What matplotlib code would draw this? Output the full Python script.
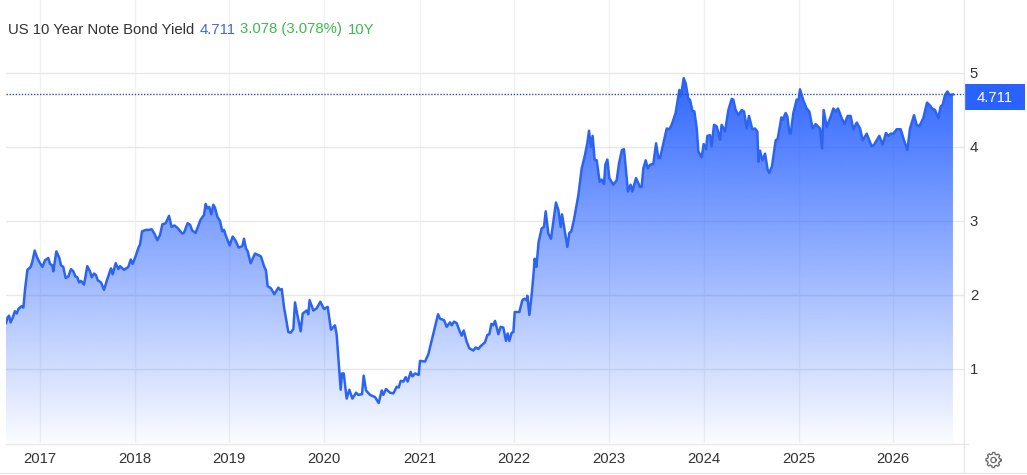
import numpy as np
import matplotlib
matplotlib.use("Agg")
import matplotlib.pyplot as plt
from matplotlib.patches import Rectangle, Polygon

plt.rcParams['font.family'] = ['Liberation Sans', 'DejaVu Sans']

# values: (decimal year, yield)
years = [
    2016.647, 2016.665, 2016.68, 2016.695, 2016.72, 2016.74, 2016.76, 2016.777, 2016.812, 2016.83,
    2016.847, 2016.872, 2016.907, 2016.924, 2016.949, 2016.977, 2017.005, 2017.03, 2017.058, 2017.093,
    2017.11, 2017.135, 2017.145, 2017.177, 2017.209, 2017.226, 2017.25, 2017.275, 2017.303, 2017.331,
    2017.356, 2017.377, 2017.398, 2017.416, 2017.437, 2017.468, 2017.503, 2017.531, 2017.549, 2017.573,
    2017.594, 2017.612, 2017.647, 2017.679, 2017.707, 2017.752, 2017.77, 2017.802, 2017.83, 2017.847,
    2017.889, 2017.935, 2017.96, 2017.98, 2018.016, 2018.044, 2018.058, 2018.079, 2018.1, 2018.121,
    2018.156, 2018.18, 2018.209, 2018.24, 2018.268, 2018.293, 2018.328, 2018.363, 2018.39, 2018.419,
    2018.45, 2018.503, 2018.52, 2018.559, 2018.584, 2018.608, 2018.643, 2018.696, 2018.731, 2018.749,
    2018.766, 2018.787, 2018.808, 2018.829, 2018.847, 2018.871, 2018.9, 2018.924, 2018.942, 2018.959,
    2019.001, 2019.033, 2019.061, 2019.096, 2019.135, 2019.152, 2019.173, 2019.191, 2019.222, 2019.268,
    2019.303, 2019.331, 2019.363, 2019.384, 2019.401, 2019.436, 2019.471, 2019.514, 2019.531, 2019.55,
    2019.573, 2019.619, 2019.643, 2019.672, 2019.689, 2019.714, 2019.749, 2019.77, 2019.812, 2019.829,
    2019.843, 2019.882, 2019.917, 2019.956, 2019.994, 2020.033, 2020.068, 2020.11, 2020.128, 2020.17,
    2020.184, 2020.202, 2020.233, 2020.261, 2020.293, 2020.332, 2020.356, 2020.395, 2020.412, 2020.437,
    2020.479, 2020.532, 2020.57, 2020.602, 2020.619, 2020.647, 2020.689, 2020.724, 2020.76, 2020.781,
    2020.802, 2020.83, 2020.854, 2020.875, 2020.907, 2020.925, 2020.953, 2020.991, 2021.005, 2021.058,
    2021.093, 2021.146, 2021.195, 2021.216, 2021.258, 2021.286, 2021.321, 2021.339, 2021.363, 2021.391,
    2021.426, 2021.444, 2021.465, 2021.496, 2021.524, 2021.566, 2021.591, 2021.619, 2021.644, 2021.689,
    2021.714, 2021.735, 2021.756, 2021.775, 2021.795, 2021.83, 2021.854, 2021.882, 2021.91, 2021.928,
    2021.945, 2021.97, 2021.988, 2022.002, 2022.051, 2022.082, 2022.103, 2022.128, 2022.135, 2022.156,
    2022.18, 2022.198, 2022.212, 2022.23, 2022.254, 2022.286, 2022.31, 2022.328, 2022.356, 2022.384,
    2022.436, 2022.461, 2022.486, 2022.5, 2022.556, 2022.577, 2022.598, 2022.626, 2022.672, 2022.707,
    2022.738, 2022.766, 2022.784, 2022.805, 2022.822, 2022.843, 2022.865, 2022.896, 2022.917, 2022.942,
    2022.956, 2022.977, 2022.998, 2023.04, 2023.075, 2023.1, 2023.131, 2023.152, 2023.194, 2023.222,
    2023.24, 2023.279, 2023.32, 2023.338, 2023.356, 2023.381, 2023.402, 2023.426, 2023.461, 2023.49,
    2023.514, 2023.532, 2023.567, 2023.602, 2023.63, 2023.654, 2023.696, 2023.735, 2023.75, 2023.781,
    2023.802, 2023.83, 2023.847, 2023.872, 2023.893, 2023.918, 2023.935, 2023.97, 2023.991, 2024.016,
    2024.03, 2024.058, 2024.075, 2024.1, 2024.128, 2024.163, 2024.18, 2024.216, 2024.251, 2024.286,
    2024.303, 2024.325, 2024.356, 2024.391, 2024.416, 2024.444, 2024.468, 2024.503, 2024.531, 2024.556,
    2024.567, 2024.584, 2024.609, 2024.637, 2024.665, 2024.682, 2024.71, 2024.749, 2024.77, 2024.809,
    2024.825, 2024.854, 2024.872, 2024.893, 2024.907, 2024.935, 2024.97, 2024.991, 2025.005, 2025.04,
    2025.075, 2025.103, 2025.138, 2025.17, 2025.215, 2025.237, 2025.254, 2025.286, 2025.328, 2025.356,
    2025.384, 2025.405, 2025.444, 2025.472, 2025.507, 2025.538, 2025.566, 2025.602, 2025.637, 2025.665,
    2025.707, 2025.759, 2025.784, 2025.84, 2025.875, 2025.91, 2025.935, 2025.96, 2025.987, 2026.023,
    2026.065, 2026.1, 2026.135, 2026.163, 2026.205, 2026.233, 2026.261, 2026.303, 2026.342, 2026.366,
    2026.398, 2026.426, 2026.461, 2026.486, 2026.507, 2026.531, 2026.556, 2026.584, 2026.615,
]
yields = [
    1.62, 1.70, 1.72, 1.63, 1.70, 1.78, 1.75, 1.81, 1.85, 1.83,
    2.07, 2.34, 2.38, 2.45, 2.60, 2.50, 2.43, 2.38, 2.47, 2.50,
    2.42, 2.40, 2.32, 2.59, 2.50, 2.40, 2.38, 2.23, 2.25, 2.35,
    2.32, 2.25, 2.24, 2.17, 2.19, 2.14, 2.39, 2.32, 2.24, 2.29,
    2.27, 2.20, 2.17, 2.07, 2.19, 2.36, 2.28, 2.43, 2.35, 2.39,
    2.34, 2.38, 2.48, 2.42, 2.54, 2.65, 2.68, 2.86, 2.87, 2.88,
    2.88, 2.89, 2.83, 2.74, 2.81, 2.955, 2.97, 3.07, 2.92, 2.94,
    2.91, 2.83, 2.84, 2.97, 2.95, 2.87, 2.84, 3.02, 3.08, 3.23,
    3.17, 3.19, 3.09, 3.22, 3.18, 3.06, 3.00, 2.86, 2.88, 2.81,
    2.67, 2.79, 2.74, 2.64, 2.66, 2.76, 2.63, 2.59, 2.43, 2.56,
    2.54, 2.52, 2.39, 2.33, 2.12, 2.09, 2.01, 2.10, 2.07, 2.08,
    1.84, 1.50, 1.49, 1.54, 1.90, 1.73, 1.51, 1.75, 1.79, 1.74,
    1.93, 1.79, 1.82, 1.91, 1.81, 1.84, 1.53, 1.59, 1.46, 0.72,
    0.94, 0.94, 0.60, 0.72, 0.60, 0.68, 0.65, 0.66, 0.91, 0.71,
    0.65, 0.62, 0.54, 0.71, 0.65, 0.73, 0.68, 0.67, 0.76, 0.75,
    0.84, 0.83, 0.89, 0.83, 0.96, 0.90, 0.94, 0.92, 1.11, 1.10,
    1.20, 1.48, 1.74, 1.68, 1.66, 1.57, 1.63, 1.59, 1.64, 1.62,
    1.50, 1.45, 1.52, 1.37, 1.28, 1.25, 1.29, 1.27, 1.31, 1.36,
    1.46, 1.47, 1.61, 1.59, 1.65, 1.47, 1.57, 1.56, 1.38, 1.48,
    1.38, 1.49, 1.50, 1.77, 1.77, 1.93, 1.95, 1.93, 1.99, 1.73,
    2.00, 2.25, 2.49, 2.38, 2.72, 2.90, 2.92, 3.13, 2.83, 2.76,
    3.25, 3.15, 2.92, 3.09, 2.65, 2.84, 2.86, 3.02, 3.35, 3.71,
    3.87, 4.05, 4.22, 4.00, 4.15, 3.83, 3.82, 3.53, 3.56, 3.50,
    3.76, 3.83, 3.58, 3.49, 3.55, 3.78, 3.96, 3.97, 3.40, 3.49,
    3.40, 3.58, 3.46, 3.46, 3.71, 3.82, 3.71, 3.76, 3.77, 4.05,
    3.85, 3.85, 4.05, 4.25, 4.24, 4.30, 4.46, 4.77, 4.68, 4.93,
    4.86, 4.64, 4.64, 4.49, 4.48, 4.25, 3.94, 3.86, 4.04, 3.97,
    4.15, 4.16, 4.01, 4.30, 4.28, 4.10, 4.30, 4.21, 4.50, 4.65,
    4.64, 4.51, 4.43, 4.50, 4.48, 4.25, 4.42, 4.24, 4.25, 4.21,
    3.80, 3.95, 3.82, 3.91, 3.69, 3.65, 3.74, 4.09, 4.11, 4.40,
    4.37, 4.46, 4.41, 4.19, 4.18, 4.46, 4.64, 4.64, 4.78, 4.63,
    4.52, 4.48, 4.25, 4.31, 4.25, 3.98, 4.50, 4.27, 4.41, 4.52,
    4.48, 4.52, 4.39, 4.31, 4.42, 4.42, 4.24, 4.33, 4.25, 4.09,
    4.18, 4.01, 4.03, 4.15, 4.03, 4.19, 4.15, 4.18, 4.18, 4.24,
    4.24, 4.09, 3.96, 4.25, 4.43, 4.30, 4.28, 4.39, 4.60, 4.57,
    4.52, 4.50, 4.39, 4.55, 4.57, 4.70, 4.75, 4.70, 4.71,
]
year_ticks = [2017.0, 2018.0, 2018.995, 2019.995, 2021.0, 2021.99, 2022.99, 2023.99, 2024.99, 2025.985]
year_labels = ['2017', '2018', '2019', '2020', '2021', '2022', '2023', '2024', '2025', '2026']
yield_ticks = [1, 2, 3, 4, 5]
last_value = 4.711

W, H = 1027, 475
BLUE = '#2c64f2'
GRID = '#e8e8e8'
TEXT = '#333333'
FS = 10.7

fig = plt.figure(figsize=(W / 100, H / 100), dpi=100, facecolor='white')

# plot area runs from px 6 to 963.5 across and from the top edge down to px 443
ax = fig.add_axes([6 / W, 1 - 443 / H, 957.5 / W, 443 / H])
ax.set_xlim(2016.647, 2026.726)
ax.set_ylim(0, 443 / 74)
for s in ax.spines.values():
    s.set_visible(False)
ax.set_facecolor('white')
ax.set_xticks(year_ticks)
ax.set_xticklabels(year_labels)
ax.set_yticks(yield_ticks)
ax.tick_params(length=0, labelsize=FS, labelcolor=TEXT)
ax.yaxis.tick_right()
ax.tick_params(axis='y', pad=4.5)
ax.tick_params(axis='x', pad=6.5)
ax.grid(axis='y', color=GRID, lw=1)
ax.grid(axis='x', color='#f0f1f3', lw=1)
ax.set_axisbelow(True)

# gradient area under the line
top = max(yields)
grad = np.zeros((256, 2, 4))
grad[..., :3] = np.array([41, 98, 255]) / 255
grad[..., 3] = np.linspace(0.97, 0.02, 256)[:, None]
img = ax.imshow(grad, extent=[years[0], years[-1], 0, top], aspect='auto', origin='upper', zorder=1.5)
poly = Polygon(list(zip(years, yields)) + [(years[-1], 0), (years[0], 0)], closed=True,
               transform=ax.transData, fc='none', ec='none')
ax.add_patch(poly)
img.set_clip_path(poly)
ax.set_xlim(2016.647, 2026.726)
ax.set_ylim(0, 443 / 74)

ax.plot(years, yields, color=BLUE, lw=1.8, solid_joinstyle='round', zorder=3)
ax.axhline(last_value, color='#2a4fb0', lw=1, ls=(0, (1, 1.2)), zorder=4)

# header, price tag and frame drawn in pixel coordinates
ov = fig.add_axes([0, 0, 1, 1], facecolor='none')
ov.set_xlim(0, W)
ov.set_ylim(H, 0)
ov.axis('off')

ov.text(8, 29.5, 'US 10 Year Note Bond Yield', color=TEXT, fontsize=FS, va='center')
ov.text(199.5, 29.5, '4.711', color='#4169e1', fontsize=FS, va='center')
ov.text(240, 29.5, '3.078 (3.078%)', color='#3fb950', fontsize=FS, va='center')
ov.text(347.5, 29.5, '10Y', color='#3fb950', fontsize=FS, va='center')

ov.add_patch(Rectangle((964, 84), 61, 26, fc='#2962ff', ec='none'))
ov.text(994.5, 97.5, '4.711', color='white', fontsize=FS, ha='center', va='center')

ov.plot([963.5, 963.5], [0, 472], color=GRID, lw=1)
ov.plot([6, 968], [443.5, 443.5], color=GRID, lw=1)
ov.plot([0, W], [472.5, 472.5], color=GRID, lw=1)

# settings gear
ang = np.linspace(0, 2 * np.pi, 97)
rad = 7.6 - 1.6 * (np.cos(8 * ang) < 0)
ov.plot(993.5 + rad * np.cos(ang), 460 + rad * np.sin(ang), color='#6b6b6b', lw=0.9)
ov.plot(993.5 + 2.6 * np.cos(ang), 460 + 2.6 * np.sin(ang), color='#6b6b6b', lw=0.9)

fig.savefig('out.png', dpi=100)
